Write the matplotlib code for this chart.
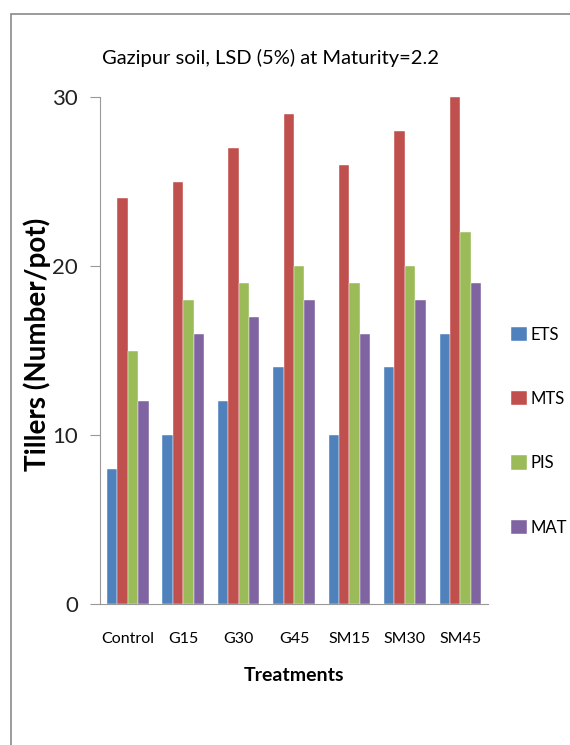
import matplotlib
matplotlib.use("Agg")
import matplotlib.pyplot as plt
from matplotlib.patches import Rectangle
import numpy as np

plt.rcParams['font.family'] = ['Lato', 'DejaVu Sans']

treatments = ["Control", "G15", "G30", "G45", "SM15", "SM30", "SM45"]
ets = [8, 10, 12, 14, 10, 14, 16]
mts = [24, 25, 27, 29, 26, 28, 30]
pis = [15, 18, 19, 20, 19, 20, 22]
mat = [12, 16, 17, 18, 16, 18, 19]
series_names = ["ETS", "MTS", "PIS", "MAT"]
colors = ["#4F81BD", "#C0504D", "#9BBB59", "#8064A2"]

W, H = 570, 745
fig = plt.figure(figsize=(W / 100, H / 100), dpi=100)

# outer frame (clipped on right/bottom like the screenshot)
fig.patches.append(Rectangle((11 / W, -0.1), 1.2, 1 - 14 / H + 0.1,
                             transform=fig.transFigure, fill=False,
                             edgecolor="#8a8a8a", linewidth=1.2))

ax = fig.add_axes([100 / W, 1 - 604 / H, 388 / W, 507 / H])

x = np.arange(len(treatments))
bw = 0.1875
for i, (vals, name, c) in enumerate(zip([ets, mts, pis, mat], series_names, colors)):
    ax.bar(x + (i - 1.5) * bw, vals, bw, color=c, label=name,
           edgecolor="white", linewidth=0.3)

ax.set_xlim(-0.5, 6.5)
ax.set_ylim(0, 30)
ax.set_yticks([0, 10, 20, 30])
ax.set_xticks(x)
ax.set_xticklabels(treatments, fontsize=11.5)
ax.tick_params(axis='x', length=0, pad=20)
ax.tick_params(axis='y', length=7, color="#999999", labelsize=16, pad=9, labelcolor="#222222")
for s in ["top", "right"]:
    ax.spines[s].set_visible(False)
ax.spines["left"].set_color("#999999")
ax.spines["bottom"].set_color("#999999")

ax.set_xlabel("Treatments", fontsize=14, fontweight="bold", labelpad=15)
ax.set_ylabel("Tillers (Number/pot)", fontsize=20, fontweight="bold")
ax.yaxis.set_label_coords((51 - 100) / 388, (604 - 344) / 507)
fig.text(0.475, 1 - 58 / H, "Gazipur soil, LSD (5%) at Maturity=2.2", ha="center",
         va="center", fontsize=14.5)

fig.legend(loc="upper left", bbox_to_anchor=(504 / W, 1 - 320 / H), frameon=False,
           fontsize=12, handlelength=0.95, handleheight=0.95, handletextpad=0.25,
           labelspacing=2.9, borderaxespad=0)

fig.savefig("out.png", dpi=100)
